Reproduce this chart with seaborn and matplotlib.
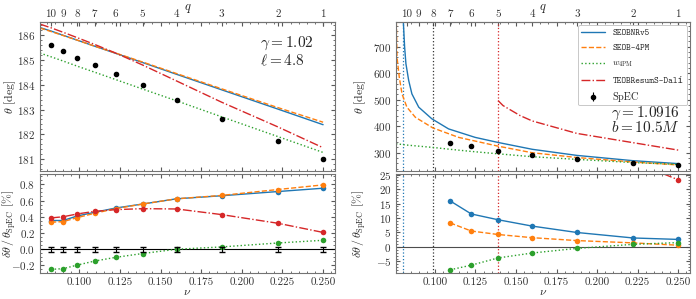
import numpy as np
import pandas as pd
import matplotlib
matplotlib.use("Agg")
import matplotlib.pyplot as plt
import seaborn as sns
from matplotlib.ticker import MultipleLocator
from matplotlib.lines import Line2D

# ---------------------------------------------------------------
# data
# ---------------------------------------------------------------
q_vals = [10, 9, 8, 7, 6, 5, 4, 3, 2, 1]
nu_q = [0.0826, 0.0900, 0.0988, 0.1094, 0.1224, 0.1389, 0.1600, 0.1875, 0.2222, 0.2500]

# left panel (gamma=1.02, l=4.8)
nu_curve_l = [0.0758, 0.0826, 0.0900, 0.0988, 0.1094, 0.1224, 0.1389, 0.1600, 0.1875, 0.2222, 0.2500]
theta_v5_l = [186.31, 186.17, 186.00, 185.80, 185.56, 185.27, 184.90, 184.42, 183.80, 183.02, 182.39]
theta_4pm_l = [186.29, 186.15, 185.99, 185.80, 185.56, 185.28, 184.92, 184.45, 183.84, 183.08, 182.49]
theta_w4pm_l = [185.28, 185.13, 184.96, 184.75, 184.51, 184.21, 183.83, 183.35, 182.71, 181.91, 181.27]
theta_teob_l = [186.45, 186.30, 186.12, 185.90, 185.63, 185.28, 184.80, 184.15, 183.30, 182.30, 181.46]
theta_spec_l = [185.59, 185.35, 185.10, 184.81, 184.45, 183.99, 183.37, 182.64, 181.73, 181.00]
err_spec_l = [0.03] * 10

d_v5_l = [0.354, 0.354, 0.41, 0.455, 0.508, 0.557, 0.622, 0.659, 0.711, 0.752]
d_4pm_l = [0.333, 0.34, 0.39, 0.443, 0.50, 0.557, 0.622, 0.663, 0.736, 0.793]
d_w4pm_l = [-0.248, -0.24, -0.195, -0.146, -0.10, -0.053, 0.0, 0.028, 0.077, 0.11]
d_teob_l = [0.386, 0.40, 0.435, 0.467, 0.488, 0.50, 0.496, 0.427, 0.32, 0.207]
d_spec_err_l = [0.03] * 10

# right panel (gamma=1.0916, b=10.5M)
nu_v5_r = [0.0805, 0.0813, 0.0821, 0.0838, 0.0858, 0.0900, 0.0981, 0.1084, 0.1248, 0.1388, 0.1600, 0.1875, 0.2222, 0.2500]
theta_v5_r = [795, 699, 636, 573, 522, 472, 428, 390, 358, 339, 313, 290, 270, 259]
nu_4pm_r = [0.0762, 0.0766, 0.0780, 0.0797, 0.0827, 0.0879, 0.0986, 0.1146, 0.1388, 0.1600, 0.1875, 0.2222, 0.2500]
theta_4pm_r = [795, 661, 585, 522, 472, 434, 394, 358, 325, 300, 282, 265, 254]
nu_w4pm_r = [0.0760, 0.0826, 0.0988, 0.1094, 0.1224, 0.1389, 0.1600, 0.1875, 0.2222, 0.2500]
theta_w4pm_r = [334, 329, 320, 313, 305, 296, 285, 275, 263, 256]
nu_teob_r = [0.1389, 0.1420, 0.1526, 0.1600, 0.1875, 0.2222, 0.2500]
theta_teob_r = [497, 478, 440, 420, 373, 338, 310]
nu_spec_r = [0.1094, 0.1224, 0.1389, 0.1600, 0.1875, 0.2222, 0.2500]
theta_spec_r = [337.7, 325, 307.5, 291, 276, 261, 252]
err_spec_r = [2.0] * 7

d_v5_r = [15.9, 11.4, 9.4, 7.2, 5.0, 3.1, 2.6]
d_4pm_r = [8.3, 5.5, 4.3, 3.2, 2.2, 1.4, 0.6]
d_w4pm_r = [-7.9, -6.3, -3.8, -2.1, -0.5, 0.9, 1.5]
nu_teob_pts_r = [0.1389, 0.1600, 0.1875, 0.2222, 0.2500]
d_teob_r = [62, 43, 35, 29.5, 23.2]

# model thresholds (vertical dotted lines)
nu_stop_v5 = 0.0805
nu_stop_spec = 0.0988
nu_stop_teob = 0.1389

C_V5, C_4PM, C_W, C_TEOB = "#1f77b4", "#ff7f0e", "#2ca02c", "#d62728"

# ---------------------------------------------------------------
# style
# ---------------------------------------------------------------
sns.set_style("ticks")
plt.rcParams.update({
    "font.family": "serif",
    "font.serif": ["cmr10"],
    "mathtext.fontset": "cm",
    "axes.formatter.use_mathtext": True,
    "axes.unicode_minus": True,
    "xtick.direction": "in",
    "ytick.direction": "in",
    "xtick.labelsize": 8,
    "ytick.labelsize": 8,
    "axes.labelsize": 8.5,
    "axes.edgecolor": "0.45",
    "axes.linewidth": 0.8,
    "xtick.color": "0.35",
    "ytick.color": "0.35",
    "xtick.labelcolor": "0.2",
    "ytick.labelcolor": "0.2",
    "xtick.major.size": 3,
    "ytick.major.size": 3,
    "xtick.minor.size": 1.6,
    "ytick.minor.size": 1.6,
    "xtick.minor.visible": True,
    "ytick.minor.visible": True,
})

MONO = ["cmtt10", "DejaVu Sans Mono"]

fig = plt.figure(figsize=(6.96, 2.99), dpi=100)
axL = fig.add_axes([0.0575, 0.428, 0.424, 0.498])
axLb = fig.add_axes([0.0575, 0.087, 0.424, 0.331], sharex=axL)
axR = fig.add_axes([0.569, 0.428, 0.4224, 0.498])
axRb = fig.add_axes([0.569, 0.087, 0.4224, 0.331], sharex=axR)


def curve(ax, x, y, color, ls, marker=None):
    sns.lineplot(x=x, y=y, ax=ax, color=color, linestyle=ls, lw=1.0,
                 sort=False, estimator=None, legend=False,
                 marker=marker, markersize=4.0, markeredgewidth=0)


# ---- left top
curve(axL, nu_curve_l, theta_v5_l, C_V5, "-")
curve(axL, nu_curve_l, theta_4pm_l, C_4PM, "--")
curve(axL, nu_curve_l, theta_w4pm_l, C_W, ":")
curve(axL, nu_curve_l, theta_teob_l, C_TEOB, "-.")
axL.errorbar(nu_q, theta_spec_l, yerr=err_spec_l, fmt="o", color="k",
             ms=3.0, capsize=1.3, elinewidth=0.8, zorder=5)
axL.set_ylim(180.52, 186.53)
axL.yaxis.set_major_locator(MultipleLocator(1))
axL.yaxis.set_minor_locator(MultipleLocator(0.2))
axL.set_ylabel(r"$\theta$ [deg]")
axL.text(0.745, 0.86, r"$\gamma = 1.02$", transform=axL.transAxes, fontsize=11, va="center")
axL.text(0.745, 0.745, r"$\ell = 4.8$", transform=axL.transAxes, fontsize=11, va="center")

# ---- left bottom
axLb.axhline(0, color="k", lw=0.8, zorder=1)
curve(axLb, nu_q, d_v5_l, C_V5, "-", marker="o")
curve(axLb, nu_q, d_4pm_l, C_4PM, "--", marker="o")
curve(axLb, nu_q, d_w4pm_l, C_W, ":", marker="o")
curve(axLb, nu_q, d_teob_l, C_TEOB, "-.", marker="o")
axLb.errorbar(nu_q, [0] * 10, yerr=d_spec_err_l, fmt="none", ecolor="k",
              capsize=2.2, elinewidth=0.8, zorder=4)
axLb.set_ylim(-0.293, 0.927)
axLb.yaxis.set_major_locator(MultipleLocator(0.2))
axLb.yaxis.set_minor_locator(MultipleLocator(0.05))
axLb.set_ylabel(r"$\delta\theta\,/\,\theta_{\rm SpEC}$ [%]")

# ---- right top
for x0, c in [(nu_stop_v5, C_V5), (nu_stop_spec, "0.2"), (nu_stop_teob, C_TEOB)]:
    axR.axvline(x0, color=c, ls=":", lw=0.9, zorder=1)
    axRb.axvline(x0, color=c, ls=":", lw=0.9, zorder=1)
curve(axR, nu_v5_r, theta_v5_r, C_V5, "-")
curve(axR, nu_4pm_r, theta_4pm_r, C_4PM, "--")
curve(axR, nu_w4pm_r, theta_w4pm_r, C_W, ":")
curve(axR, nu_teob_r, theta_teob_r, C_TEOB, "-.")
axR.errorbar(nu_spec_r, theta_spec_r, yerr=err_spec_r, fmt="o", color="k",
             ms=3.0, capsize=1.3, elinewidth=0.8, zorder=5)
axR.set_ylim(231, 793)
axR.yaxis.set_major_locator(MultipleLocator(100))
axR.yaxis.set_minor_locator(MultipleLocator(20))
axR.set_ylabel(r"$\theta$ [deg]")
axR.text(0.965, 0.39, r"$\gamma = 1.0916$", transform=axR.transAxes, fontsize=11,
         va="center", ha="right")
axR.text(0.965, 0.29, r"$b = 10.5M$", transform=axR.transAxes, fontsize=11,
         va="center", ha="right")

handles = [
    Line2D([], [], color=C_V5, lw=1.0, ls="-"),
    Line2D([], [], color=C_4PM, lw=1.0, ls="--"),
    Line2D([], [], color=C_W, lw=1.0, ls=":"),
    Line2D([], [], color=C_TEOB, lw=1.0, ls="-."),
    axR.errorbar([], [], yerr=[], fmt="o", color="k", ms=3.0, capsize=1.5, elinewidth=0.8),
]
labels = ["SEOBNRv5", "SEOB-4PM", r"$w_{\rm 4PM}$", "TEOBResumS-Dalí", "SpEC"]
leg = axR.legend(handles, labels, loc="upper right", fontsize=6.4, handlelength=2.7,
                 labelspacing=0.8, borderaxespad=0.35, frameon=True, fancybox=True,
                 framealpha=1, edgecolor="0.75")
for i in (0, 1, 3):
    leg.get_texts()[i].set_family(MONO)
leg.get_texts()[4].set_fontsize(7.5)
leg.get_frame().set_linewidth(0.6)

# ---- right bottom
axRb.axhline(0, color="0.3", lw=0.8, zorder=1)
curve(axRb, nu_spec_r, d_v5_r, C_V5, "-", marker="o")
curve(axRb, nu_spec_r, d_4pm_r, C_4PM, "--", marker="o")
curve(axRb, nu_spec_r, d_w4pm_r, C_W, ":", marker="o")
curve(axRb, nu_teob_pts_r, d_teob_r, C_TEOB, "-.", marker="o")
axRb.set_ylim(-9.0, 25.2)
axRb.yaxis.set_major_locator(MultipleLocator(5))
axRb.yaxis.set_minor_locator(MultipleLocator(1))
axRb.set_ylabel(r"$\delta\theta\,/\,\theta_{\rm SpEC}$ [%]")

# label positions as in the reference
for ax in (axL, axLb):
    ax.yaxis.set_label_coords(-0.075, 0.5)
for ax in (axR, axRb):
    ax.yaxis.set_label_coords(-0.095, 0.5)

# ---- shared x, q axis on top
for top, bot, xlim in [(axL, axLb, (0.0758, 0.2574)), (axR, axRb, (0.0760, 0.2573))]:
    bot.set_xlim(*xlim)
    bot.xaxis.set_major_locator(MultipleLocator(0.025))
    bot.xaxis.set_minor_locator(MultipleLocator(0.005))
    bot.xaxis.set_major_formatter(matplotlib.ticker.FormatStrFormatter("%.3f"))
    bot.set_xlabel(r"$\nu$", labelpad=0)
    for ax in (top, bot):
        ax.tick_params(which="both", top=True, right=True)
    top.tick_params(labelbottom=False)
    top.set_xlabel("")
    sec = top.secondary_xaxis("top")
    sec.set_xticks(nu_q, labels=[str(q) for q in q_vals])
    sec.xaxis.set_minor_locator(matplotlib.ticker.NullLocator())
    sec.tick_params(direction="in", length=3, pad=2)
    sec.set_xlabel(r"$q$", labelpad=0, fontsize=9)

fig.savefig("out.png", dpi=100)
